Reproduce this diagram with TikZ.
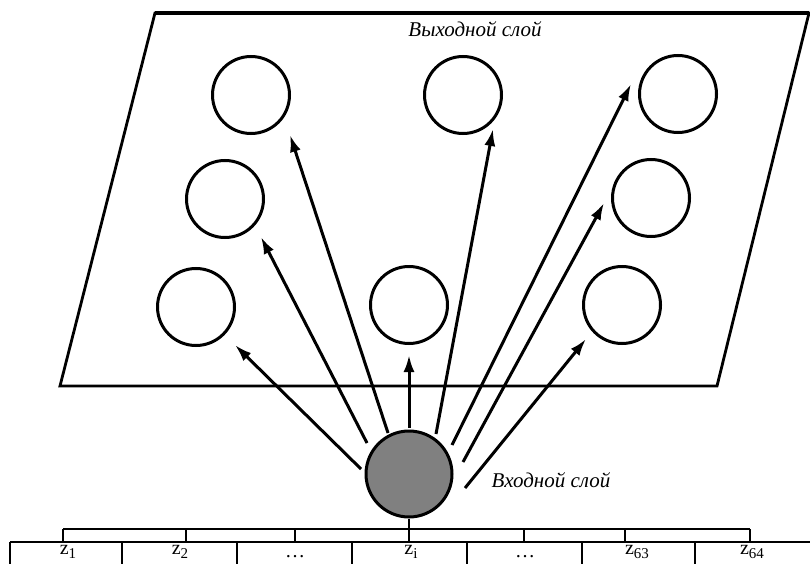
\documentclass[tikz,border=0pt]{standalone}
\usepackage{fontspec}
\setmainfont{Liberation Serif}
\usetikzlibrary{arrows.meta}
\tikzset{
  unit/.style={circle, draw, line width=3pt, minimum size=77pt, inner sep=0pt},
  inunit/.style={circle, draw, line width=3pt, minimum size=86pt, inner sep=0pt, fill={rgb,255:red,128;green,128;blue,128}},
  link/.style={line width=3pt, -{Latex[length=17pt,width=11pt]}},
  thin/.style={line width=1.2pt},
  layername/.style={font=\fontsize{21}{24}\selectfont\itshape, inner sep=0pt},
  cell/.style={font=\fontsize{20}{22}\selectfont, inner sep=0pt}
}
\newcommand{\zsub}[1]{z\raisebox{-4pt}{\fontsize{15}{17}\selectfont #1}}
\begin{document}
\begin{tikzpicture}[x=1pt,y=-1pt]
\useasboundingbox (0,0) rectangle (810,564);

% output layer plane
\draw[line width=2.8pt, line join=miter] (155,13) -- (809,13) -- (717,386) -- (60,386) -- cycle;
\draw[line width=3.8pt] (155,13) -- (809,13);
\node[layername] (outname) at (475,29) {Выходной слой};

% output units
\node[unit] (o1) at (251,95) {};
\node[unit] (o2) at (463,95) {};
\node[unit] (o3) at (678,94) {};
\node[unit] (o4) at (225,199) {};
\node[unit] (o5) at (651,198) {};
\node[unit] (o6) at (196,307) {};
\node[unit] (o7) at (409,305) {};
\node[unit] (o8) at (622,305) {};

% input unit
\node[inunit] (in) at (409,474) {};
\node[layername] (inname) at (551,480) {Входной слой};

% connector end points
\coordinate (s1) at (361,469); \coordinate (t1) at (235,345);
\coordinate (s2) at (367,443); \coordinate (t2) at (261,237);
\coordinate (s3) at (388,433); \coordinate (t3) at (290,135);
\coordinate (s4) at (409,428); \coordinate (t4) at (409,355);
\coordinate (s5) at (436,434); \coordinate (t5) at (493,129);
\coordinate (s6) at (452,445); \coordinate (t6) at (631,84);
\coordinate (s7) at (463,462); \coordinate (t7) at (604,203);
\coordinate (s8) at (465,488); \coordinate (t8) at (586,339);

\foreach \k in {1,...,8} \draw[link] (s\k) -- (t\k);

% input vector table
\coordinate (bl) at (63,529);
\coordinate (br) at (750,529);
\draw[thin] (bl) -- (br);
\foreach \x in {63,186,295,524,625,750} \draw[thin] (\x,529) -- (\x,542);
\draw[thin] (in.south) -- (409,542);
\draw[thin] (10,542) -- (810,542);
\foreach \x in {10,122,237,352,467,582,695} \draw[thin] (\x,542) -- (\x,566);

\node[cell] (z1) at (68,552) {\zsub{1}};
\node[cell] (z2) at (180,552) {\zsub{2}};
\node[cell] (d1) at (295,557) {\dots};
\node[cell] (zi) at (411,552) {\zsub{i}};
\node[cell] (d2) at (525,557) {\dots};
\node[cell] (z63) at (637,552) {\zsub{63}};
\node[cell] (z64) at (752,552) {\zsub{64}};
\end{tikzpicture}
\end{document}
